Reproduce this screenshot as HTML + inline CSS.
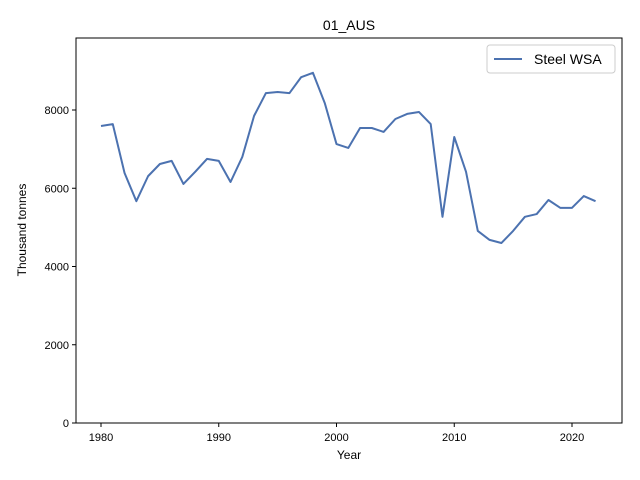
<!DOCTYPE html>
<html><head><meta charset="utf-8"><style>body{margin:0;background:#fff}svg{display:block;font-family:"Liberation Sans",Arial,sans-serif}</style></head>
<body>
<svg id="chart" width="640" height="480" xmlns="http://www.w3.org/2000/svg">
<rect width="640" height="480" fill="#fff"/>
<text x="349" y="30" text-anchor="middle" font-size="14">01_AUS</text>
<g id="grid"></g>
<polyline id="line" fill="none" stroke="#4c72b0" stroke-width="2" stroke-linejoin="round"/>
<rect x="76" y="38" width="546" height="385" fill="none" stroke="#000" stroke-width="1"/>
<g id="xt"></g><g id="yt"></g>
<text x="349" y="459" text-anchor="middle" font-size="12">Year</text>
<text transform="translate(26,230) rotate(-90)" text-anchor="middle" font-size="12">Thousand tonnes</text>
<g>
<rect x="487" y="45" width="128" height="28" rx="3" fill="#fff" stroke="#ccc"/>
<line x1="494" y1="59" x2="522" y2="59" stroke="#4c72b0" stroke-width="2"/>
<text x="534" y="64" font-size="14">Steel WSA</text>
</g>
</svg>
<script>
const years=[];for(let y=1980;y<=2022;y++)years.push(y);
const values=[7590,7640,6390,5670,6310,6620,6700,6110,6420,6750,6700,6160,6800,7850,8430,8460,8430,8840,8950,8180,7130,7030,7540,7540,7440,7770,7900,7950,7640,5270,7310,6420,4910,4680,4600,4910,5270,5340,5700,5500,5500,5800,5670];
const xTicks=[1980,1990,2000,2010,2020];
const yTicks=[0,2000,4000,6000,8000];
const X=v=>101+(v-1980)*(572-101)/40;
const Y=v=>423-v*0.039125;
const ns="http://www.w3.org/2000/svg";
document.getElementById('line').setAttribute('points',years.map((y,i)=>X(y)+','+Y(values[i])).join(' '));
const xt=document.getElementById('xt'),yt=document.getElementById('yt');
xTicks.forEach(t=>{const l=document.createElementNS(ns,'line');l.setAttribute('x1',X(t));l.setAttribute('x2',X(t));l.setAttribute('y1',423);l.setAttribute('y2',427);l.setAttribute('stroke','#000');


xt.appendChild(l);const s=document.createElementNS(ns,'text');s.setAttribute('x',X(t));s.setAttribute('y',441);s.setAttribute('text-anchor','middle');s.setAttribute('font-size','11');s.textContent=t;


xt.appendChild(s);});
yTicks.forEach(t=>{const l=document.createElementNS(ns,'line');l.setAttribute('x1',72);l.setAttribute('x2',76);l.setAttribute('y1',Y(t));l.setAttribute('y2',Y(t));l.setAttribute('stroke','#000');


yt.appendChild(l);const s=document.createElementNS(ns,'text');s.setAttribute('x',69);s.setAttribute('y',Y(t)+4);s.setAttribute('text-anchor','end');s.setAttribute('font-size','11');s.textContent=t;


yt.appendChild(s);});
</script>
</body></html>
